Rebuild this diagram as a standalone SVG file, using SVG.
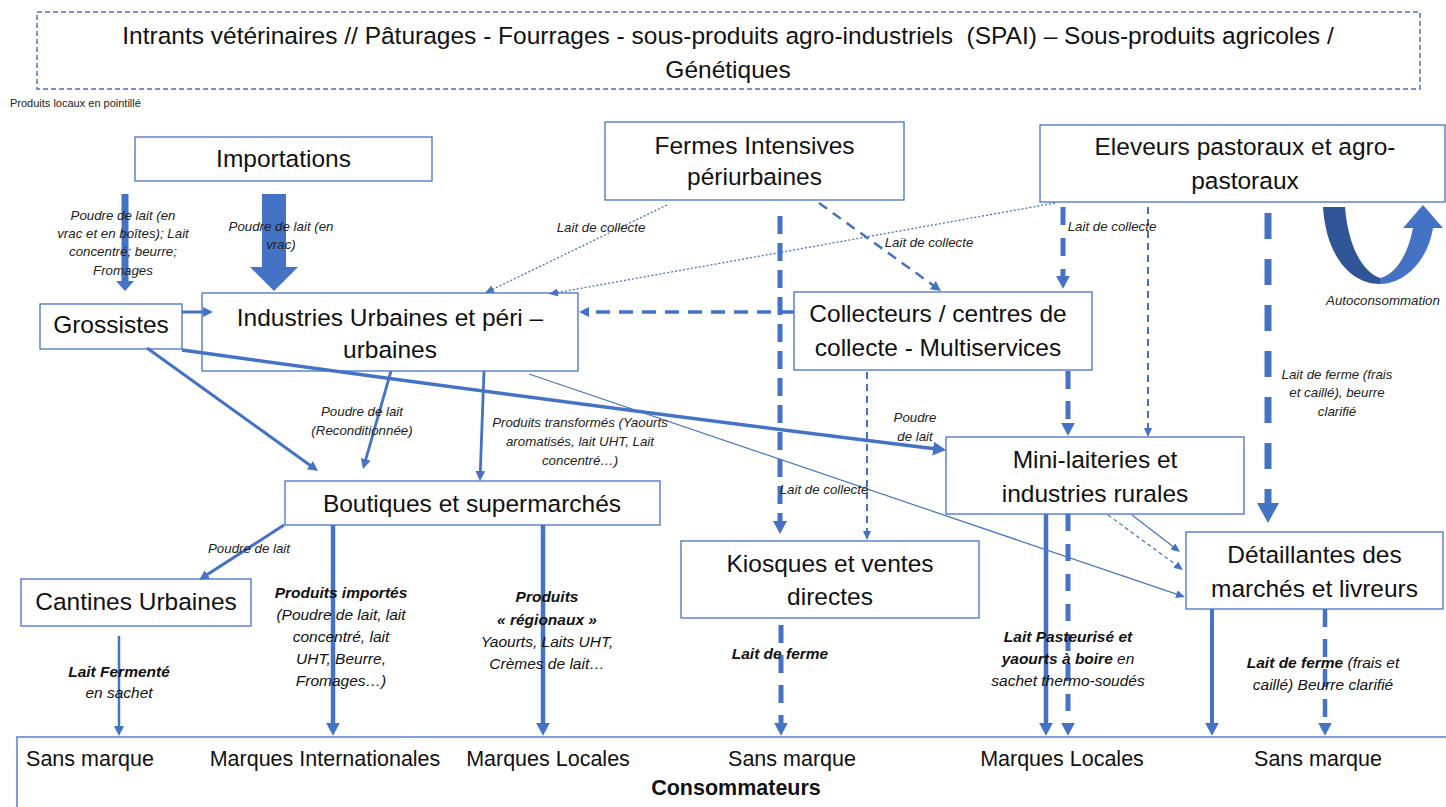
<svg xmlns="http://www.w3.org/2000/svg" width="1446" height="807" viewBox="0 0 1446 807">
<style>
.box{fill:#fff;stroke:#4472C4;stroke-width:1.3}
.nt{font-family:"Liberation Sans",Arial,sans-serif;font-size:24.5px;text-anchor:middle;fill:#111}
.tt{font-family:"Liberation Sans",Arial,sans-serif;font-size:24.5px;text-anchor:middle;fill:#111}
.lb{font-family:"Liberation Sans",Arial,sans-serif;font-size:13.3px;font-style:italic;text-anchor:middle;fill:#222}
.lb2{font-family:"Liberation Sans",Arial,sans-serif;font-size:15.5px;font-style:italic;text-anchor:middle;fill:#111}
.bt{font-family:"Liberation Sans",Arial,sans-serif;font-size:21.5px;text-anchor:middle;fill:#111}
.b{font-weight:bold}
.c{fill:none;stroke:#4472C4}
.dot{stroke-width:1.3;stroke-dasharray:2 2}
.fill{fill:#4472C4}
</style>
<defs>
<marker id="as" viewBox="0 0 10 10" preserveAspectRatio="none" refX="1" refY="5" markerWidth="9" markerHeight="8" markerUnits="userSpaceOnUse" orient="auto"><path d="M0,0L10,5L0,10z" fill="#4472C4"/></marker>
<marker id="am" viewBox="0 0 10 10" preserveAspectRatio="none" refX="1" refY="5" markerWidth="10" markerHeight="10" markerUnits="userSpaceOnUse" orient="auto"><path d="M0,0L10,5L0,10z" fill="#4472C4"/></marker>
<marker id="al" viewBox="0 0 10 10" preserveAspectRatio="none" refX="1" refY="5" markerWidth="13" markerHeight="14" markerUnits="userSpaceOnUse" orient="auto"><path d="M0,0L10,5L0,10z" fill="#4472C4"/></marker>
<marker id="axl" viewBox="0 0 10 10" preserveAspectRatio="none" refX="1" refY="5" markerWidth="20" markerHeight="22" markerUnits="userSpaceOnUse" orient="auto"><path d="M0,0L10,5L0,10z" fill="#4472C4"/></marker>
</defs>
<rect width="1446" height="807" fill="#fff"/>

<g id="intrants">
<rect x="37" y="12" width="1383" height="77" fill="#fff" stroke="#4472C4" stroke-width="1.5" stroke-dasharray="5 3"/>
<text class="tt" x="728" y="44">Intrants vétérinaires // Pâturages - Fourrages - sous-produits agro-industriels &#160;(SPAI) – Sous-produits agricoles /</text>
<text class="tt" x="728" y="78">Génétiques</text>
</g>
<text x="10" y="107" font-family="'Liberation Sans',Arial,sans-serif" font-size="11" fill="#222">Produits locaux en pointillé</text>

<g id="importations"><rect class="box" x="135" y="137" width="297" height="44"/><text class="nt" x="283.5" y="166.5">Importations</text></g>
<g id="fermes"><rect class="box" x="605" y="122" width="299" height="78"/><text class="nt" x="754.5" y="153.5">Fermes Intensives</text><text class="nt" x="754.5" y="185">périurbaines</text></g>
<g id="eleveurs"><rect class="box" x="1040" y="125" width="405" height="77"/><text class="nt" x="1245" y="155">Eleveurs pastoraux et agro-</text><text class="nt" x="1245" y="188.5">pastoraux</text></g>
<g id="grossistes"><rect class="box" x="40" y="304" width="142" height="45"/><text class="nt" x="111" y="333">Grossistes</text></g>
<g id="industries"><rect class="box" x="202" y="293" width="376" height="78"/><text class="nt" x="390" y="326">Industries Urbaines et péri –</text><text class="nt" x="390" y="358">urbaines</text></g>
<g id="collecteurs"><rect class="box" x="794" y="292" width="298" height="78"/><text class="nt" x="938" y="322.3">Collecteurs / centres de</text><text class="nt" x="938" y="355.7">collecte - Multiservices</text></g>
<g id="minilaiteries"><rect class="box" x="946" y="437" width="298" height="77"/><text class="nt" x="1095" y="468.3">Mini-laiteries et</text><text class="nt" x="1095" y="501.7">industries rurales</text></g>
<g id="boutiques"><rect class="box" x="285" y="481" width="375" height="44"/><text class="nt" x="472" y="512.3">Boutiques et supermarchés</text></g>
<g id="kiosques"><rect class="box" x="681" y="541" width="298" height="77"/><text class="nt" x="830" y="572.3">Kiosques et ventes</text><text class="nt" x="830" y="605">directes</text></g>
<g id="detaillantes"><rect class="box" x="1186" y="532" width="257" height="77"/><text class="nt" x="1314.5" y="563.3">Détaillantes des</text><text class="nt" x="1314.5" y="596.7">marchés et livreurs</text></g>
<g id="cantines"><rect class="box" x="21" y="579" width="230" height="47"/><text class="nt" x="136" y="610">Cantines Urbaines</text></g>
<g id="consommateurs">
<rect x="17" y="737" width="1440" height="80" fill="none" stroke="#7F9FD8" stroke-width="2"/>
<text class="bt" x="90" y="766">Sans marque</text>
<text class="bt" x="325" y="766">Marques Internationales</text>
<text class="bt" x="548" y="766">Marques Locales</text>
<text class="bt" x="792" y="766">Sans marque</text>
<text class="bt" x="1062" y="766">Marques Locales</text>
<text class="bt" x="1318" y="766">Sans marque</text>
<text class="bt b" x="736" y="795" font-size="19">Consommateurs</text>
</g>

<g id="connectors">
<!-- block arrows from Importations -->
<polygon class="fill" points="121.5,194 128.5,194 128.5,281 134,281 125,291 116,281 121.5,281"/>
<polygon class="fill" points="262,194 286,194 286,267 298,267 274,291 250,267 262,267"/>
<!-- Grossistes -> Industries -->
<line class="c" x1="182" y1="312" x2="204" y2="312" stroke-width="3" marker-end="url(#am)"/>
<!-- Grossistes -> Boutiques -->
<line class="c" x1="147" y1="348" x2="310.7" y2="465.7" stroke-width="3" marker-end="url(#am)"/>
<!-- Industries -> Boutiques -->
<line class="c" x1="391" y1="371" x2="365.5" y2="460.3" stroke-width="2.8" marker-end="url(#am)"/>
<line class="c" x1="484" y1="371" x2="480.3" y2="472" stroke-width="2.8" marker-end="url(#am)"/>
<!-- Grossistes -> Mini-laiteries -->
<path class="c" d="M182,350 Q600,408 934.4,448.7" stroke-width="3.5" marker-end="url(#al)"/>
<!-- Industries -> Detaillantes -->
<line class="c" x1="529" y1="374" x2="1177.3" y2="594.4" stroke-width="1.2" marker-end="url(#as)"/>
<!-- Mini -> Detaillantes -->
<line class="c" x1="1132" y1="515" x2="1173.6" y2="547.1" stroke-width="1.2" marker-end="url(#as)"/>
<line class="c" x1="1108" y1="515" x2="1176.5" y2="565.2" stroke-width="1.2" stroke-dasharray="4 3" marker-end="url(#as)"/>
<!-- dotted: Fermes -> Industries, Eleveurs -> Industries -->
<line class="c dot" x1="667" y1="205" x2="492.3" y2="289.5" marker-end="url(#as)"/>
<line class="c dot" x1="1055" y1="203" x2="557" y2="292.6" marker-end="url(#as)"/>
<!-- Fermes -> Collecteurs -->
<line class="c" x1="819" y1="203" x2="933.7" y2="285.7" stroke-width="2.5" stroke-dasharray="10 7" marker-end="url(#am)"/>
<!-- Fermes -> Kiosques -->
<line class="c" x1="780" y1="216" x2="780" y2="522.3" stroke-width="5" stroke-dasharray="18 9" marker-end="url(#al)"/>
<!-- Collecteurs -> Industries -->
<line class="c" x1="794" y1="312" x2="588" y2="312" stroke-width="3.5" stroke-dasharray="14 9" marker-end="url(#am)"/>
<!-- Eleveurs -> Collecteurs -->
<line class="c" x1="1063" y1="207" x2="1063" y2="277" stroke-width="5" stroke-dasharray="18 13" marker-end="url(#al)"/>
<!-- Eleveurs -> Mini -->
<line class="c" x1="1148" y1="207" x2="1148" y2="429" stroke-width="2" stroke-dasharray="7 5" marker-end="url(#as)"/>
<!-- Collecteurs -> Mini -->
<line class="c" x1="1068" y1="371" x2="1068" y2="424" stroke-width="5" stroke-dasharray="18 12" marker-end="url(#al)"/>
<!-- Eleveurs -> Detaillantes -->
<line class="c" x1="1268" y1="213" x2="1268" y2="505" stroke-width="7" stroke-dasharray="26 20" marker-end="url(#axl)"/>
<!-- Collecteurs -> Kiosques -->
<line class="c" x1="867" y1="372" x2="867" y2="532" stroke-width="2" stroke-dasharray="7 5" marker-end="url(#as)"/>
<!-- Boutiques -> Cantines -->
<line class="c" x1="284" y1="525" x2="206.6" y2="575.1" stroke-width="3" marker-end="url(#am)"/>
<!-- to Consommateurs -->
<line class="c" x1="333" y1="525" x2="333" y2="724" stroke-width="4.5" marker-end="url(#al)"/>
<line class="c" x1="543" y1="525" x2="543" y2="724" stroke-width="4.5" marker-end="url(#al)"/>
<line class="c" x1="119" y1="636" x2="119" y2="727" stroke-width="2.5" marker-end="url(#am)"/>
<line class="c" x1="781" y1="625" x2="781" y2="724" stroke-width="5" stroke-dasharray="18 12" marker-end="url(#al)"/>
<line class="c" x1="1046" y1="514" x2="1046" y2="724" stroke-width="4.5" marker-end="url(#al)"/>
<line class="c" x1="1068" y1="514" x2="1068" y2="724" stroke-width="5" stroke-dasharray="17 13" marker-end="url(#al)"/>
<line class="c" x1="1212" y1="609" x2="1212" y2="724" stroke-width="4" marker-end="url(#al)"/>
<line class="c" x1="1325" y1="609" x2="1325" y2="724" stroke-width="4.5" stroke-dasharray="18 12" marker-end="url(#al)"/>
<!-- Autoconsommation U-turn -->
<path d="M1323,207 C1326,255 1350,284 1380,284 L1380,278 C1362,272 1348,245 1345,207 Z" fill="#2F5597"/>
<path d="M1380,284 C1405,284 1428,260 1433,228 L1443,228 L1423,205 L1403,228 L1413,228 C1408,255 1395,275 1380,278 Z" fill="#4472C4"/>
</g>

<g id="labels">
<text class="lb"><tspan x="123" y="219.5">Poudre de lait (en</tspan><tspan x="123" y="237.5">vrac et en boîtes); Lait</tspan><tspan x="123" y="256">concentré; beurre;</tspan><tspan x="123" y="274.5">Fromages</tspan></text>
<text class="lb"><tspan x="281" y="231">Poudre de lait (en</tspan><tspan x="281" y="249">vrac)</tspan></text>
<text class="lb" x="601" y="232">Lait de collecte</text>
<text class="lb" x="929" y="247">Lait de collecte</text>
<text class="lb" x="1112" y="231">Lait de collecte</text>
<text class="lb" x="1383" y="305">Autoconsommation</text>
<text class="lb"><tspan x="1337" y="379">Lait de ferme (frais</tspan><tspan x="1337" y="397">et caillé), beurre</tspan><tspan x="1337" y="416">clarifié</tspan></text>
<text class="lb"><tspan x="362" y="416">Poudre de lait</tspan><tspan x="362" y="435">(Reconditionnée)</tspan></text>
<text class="lb"><tspan x="580" y="427">Produits transformés (Yaourts</tspan><tspan x="580" y="446">aromatisés, lait UHT, Lait</tspan><tspan x="580" y="465">concentré…)</tspan></text>
<text class="lb"><tspan x="915" y="422">Poudre</tspan><tspan x="915" y="441">de lait</tspan></text>
<text class="lb" x="824" y="494">Lait de collecte</text>
<text class="lb" x="249" y="553">Poudre de lait</text>
<text class="lb2"><tspan class="b" x="119" y="677">Lait Fermenté</tspan><tspan x="119" y="698">en sachet</tspan></text>
<text class="lb2"><tspan class="b" x="341" y="598">Produits importés</tspan><tspan x="341" y="620">(Poudre de lait, lait</tspan><tspan x="341" y="642">concentré, lait</tspan><tspan x="341" y="664">UHT, Beurre,</tspan><tspan x="341" y="686">Fromages…)</tspan></text>
<text class="lb2"><tspan class="b" x="547" y="602">Produits</tspan><tspan class="b" x="547" y="625">« régionaux »</tspan><tspan x="547" y="647">Yaourts, Laits UHT,</tspan><tspan x="547" y="669">Crèmes de lait…</tspan></text>
<text class="lb2 b" x="780" y="659">Lait de ferme</text>
<text class="lb2"><tspan class="b" x="1068" y="642">Lait Pasteurisé et</tspan><tspan x="1068" y="664"><tspan class="b">yaourts à boire</tspan> en</tspan><tspan x="1068" y="686">sachet thermo-soudés</tspan></text>
<text class="lb2"><tspan x="1323" y="668"><tspan class="b">Lait de ferme</tspan> (frais et</tspan><tspan x="1323" y="690">caillé) Beurre clarifié</tspan></text>
</g>
</svg>
